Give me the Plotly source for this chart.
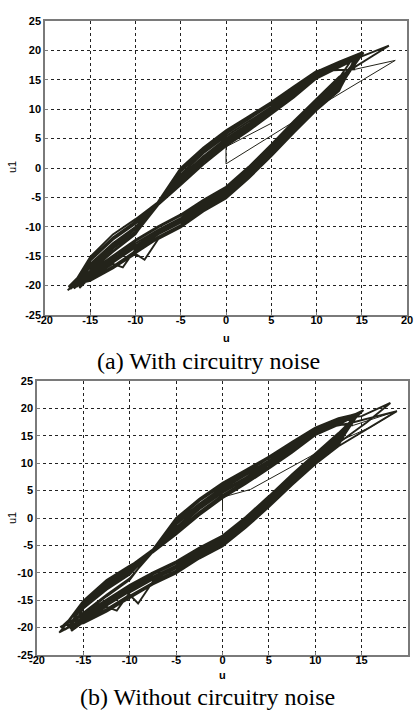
import plotly.graph_objects as go

# ---------------- data: panel (a) with circuitry noise ----------------
# start-up transient (thin isolated strokes)
u_a_start = [5.0, 0.0, 0.0, 6.3, 9.6, 18.7, 14.3]
u1_a_start = [7.6, 3.6, 0.7, 6.8, 9.9, 18.3, 16.8]
# repeated hysteresis cycles
u_a = [
    14.3,
    10.0, 7.5, 5.0, 2.5, 0.0, -2.5, -5.0, -7.5, -10.0, -12.5, -15.0, -17.5,
    -15.0, -12.5, -10.0, -7.5, -5.0, -2.5, 0.0, 2.5, 5.0, 7.5, 10.0, 12.5, 15.0,
    12.5, 10.0, 7.5, 5.0, 2.5, 0.0, -2.5, -5.0, -7.5, -10.0, -12.5, -15.0, -16.5,
    -15.0, -12.5, -10.0, -7.5, -5.0, -2.5, 0.0, 2.5, 5.0, 7.5, 10.0, 12.5, 14.6,
    12.5, 10.0, 7.5, 5.0, 2.5, 0.0, -2.5, -5.0, -7.5, -10.0, -12.5, -15.0, -17.0,
    -15.0, -12.5, -10.0, -7.5, -5.0, -2.5, 0.0, 2.5, 5.0, 7.5, 10.0, 12.5, 18.0,
    15.0, 12.5, 10.0, 7.5, 5.0, 2.5, 0.0, -2.5, -5.0, -7.5, -10.0, -12.5, -15.0, -16.2,
    -15.0, -12.5, -11.4, -10.0, -7.5, -5.0, -2.5, 0.0, 2.5, 5.0, 7.5, 10.0, 12.5, 15.2,
    12.5, 10.0, 7.5, 5.0, 2.5, 0.0, -2.5, -5.0, -7.5, -10.0, -12.5, -15.0, -17.3,
    -15.0, -12.5, -10.0, -9.0, -7.5, -5.0, -2.5, 0.0, 2.5, 5.0, 7.5, 10.0, 12.5, 14.2,
    12.5, 10.0, 7.5, 5.0, 2.5, 0.0, -2.5, -5.0, -7.5, -10.0, -12.5, -15.0, -16.8,
    -15.0, -12.5, -10.0, -7.5, -5.0, -2.5, 0.0, 2.5, 5.0, 7.5, 10.0, 12.5, 14.8,
    12.5, 10.0, 7.5, 5.0, 2.5, 0.0, -2.5, -5.0, -7.5, -10.0, -12.5, -15.0, -15.8,
    -15.0, -12.5, -10.0, -7.5, -5.0, -2.5, 0.0, 2.5, 5.0, 7.5, 10.0, 12.5, 15.1,
    12.5, 10.0, 7.5, 5.0, 2.5, 0.0, -2.5, -5.0, -7.5, -10.0, -12.5, -15.0, -17.2,
    -15.0, -12.5, -10.0, -7.5, -5.0, -2.5, 0.0, 2.5, 5.0, 7.5, 10.0, 12.5, 13.8,
    12.5, 10.0, 7.5, 5.0, 2.5, 0.0, -2.5, -5.0, -7.5, -10.0, -12.5, -15.0, -16.0,
    -15.0, -12.5, -10.0, -7.5, -5.0, -2.5, 0.0, 2.5, 5.0, 7.5, 10.0, 12.5, 14.9,
    12.5, 10.0, 7.5, 5.0, 2.5, 0.0, -2.5, -5.0, -7.5, -10.0, -12.5, -15.0, -17.4,
    -15.0, -12.5, -10.0, -7.5, -5.0, -2.5, 0.0, 2.5, 5.0, 7.5, 10.0, 12.5, 14.5,
]
u1_a = [
    16.8,
    16.5, 13.9, 11.2, 8.8, 6.4, 3.5, 0.0, -5.7, -11.3, -14.3, -17.5, -20.8,
    -18.0, -15.5, -12.8, -10.5, -8.5, -5.9, -3.7, -0.3, 3.5, 7.5, 11.3, 14.9, 19.5,
    17.4, 15.5, 12.5, 9.7, 7.0, 4.4, 1.4, -2.1, -6.1, -9.5, -12.2, -15.8, -20.2,
    -19.0, -16.9, -14.4, -11.9, -9.9, -7.2, -5.0, -1.6, 2.2, 6.2, 10.0, 13.3, 19.0,
    17.8, 16.0, 13.2, 10.4, 7.9, 5.4, 2.5, -1.1, -5.9, -10.4, -13.3, -16.7, -19.8,
    -17.6, -14.9, -12.2, -9.9, -7.9, -5.4, -3.2, 0.2, 4.0, 8.0, 11.8, 15.5, 20.8,
    19.0, 17.1, 15.2, 12.0, 9.1, 6.3, 3.7, 0.6, -2.9, -6.3, -11.2, -14.1, -17.4, -20.4,
    -18.6, -16.3, -16.9, -13.8, -11.3, -9.3, -6.7, -4.5, -1.1, 2.7, 6.7, 10.5, 13.9, 19.6,
    18.0, 16.2, 13.5, 10.8, 8.3, 5.8, 2.9, -0.6, -5.8, -10.8, -13.7, -17.0, -20.0,
    -19.2, -17.1, -14.6, -15.6, -12.1, -10.1, -7.4, -5.2, -1.8, 2.0, 6.0, 9.8, 13.1, 18.6,
    17.2, 15.3, 12.2, 9.3, 6.6, 4.0, 1.0, -2.6, -6.2, -9.1, -11.8, -15.5, -20.5,
    -18.2, -15.8, -13.2, -10.8, -8.8, -6.2, -4.0, -0.6, 3.2, 7.2, 11.0, 14.5, 19.3,
    17.6, 15.8, 12.9, 10.1, 7.5, 5.0, 2.0, -1.5, -6.0, -10.0, -12.8, -16.3, -19.6,
    -18.9, -16.7, -14.1, -11.7, -9.7, -7.0, -4.8, -1.4, 2.4, 6.4, 10.2, 13.6, 19.7,
    18.1, 16.4, 13.7, 11.0, 8.5, 6.1, 3.2, -0.3, -5.8, -8.7, -11.3, -15.1, -20.6,
    -17.8, -15.1, -12.4, -10.1, -8.1, -5.6, -3.4, 0.0, 3.8, 7.8, 11.6, 15.3, 18.2,
    17.3, 15.5, 12.4, 9.5, 6.9, 4.3, 1.3, -2.3, -6.2, -9.4, -12.1, -15.7, -20.0,
    -18.5, -16.1, -13.5, -11.1, -9.1, -6.5, -4.3, -0.9, 2.9, 6.9, 10.7, 14.2, 19.2,
    17.5, 15.7, 12.7, 9.9, 7.2, 4.7, 1.7, -1.8, -6.1, -10.3, -13.1, -16.5, -20.2,
    -19.1, -17.0, -14.5, -12.0, -10.0, -7.3, -5.1, -1.7, 2.1, 6.1, 9.9, 13.2, 18.9,
]

# ---------------- data: panel (b) without circuitry noise ----------------
u_b_start = [0.0, 0.0, 3.0, 8.0, 12.0, 16.0, 18.8, 14.1]
u1_b_start = [1.2, 3.8, 5.2, 9.8, 13.6, 16.6, 19.5, 16.9]
u_b = [
    14.1,
    12.5, 10.0, 7.5, 5.0, 2.5, 0.0, -2.5, -5.0, -7.5, -10.0, -12.5, -15.0, -17.6,
    -15.0, -12.5, -11.4, -10.0, -7.5, -5.0, -2.5, 0.0, 2.5, 5.0, 7.5, 10.0, 12.5, 14.8,
    12.5, 10.0, 7.5, 5.0, 2.5, 0.0, -2.5, -5.0, -7.5, -10.0, -12.5, -15.0, -16.4,
    -15.0, -12.5, -10.0, -7.5, -5.0, -2.5, 0.0, 2.5, 5.0, 7.5, 10.0, 12.5, 15.1,
    12.5, 10.0, 7.5, 5.0, 2.5, 0.0, -2.5, -5.0, -7.5, -10.0, -12.5, -15.0, -17.2,
    -15.0, -12.5, -10.0, -7.5, -5.0, -2.5, 0.0, 2.5, 5.0, 7.5, 10.0, 12.5, 18.8,
    13.7, 10.0, 7.5, 5.0, 2.5, 0.0, -2.5, -5.0, -7.5, -10.0, -12.5, -15.0, -16.0,
    -15.0, -12.5, -10.0, -7.5, -5.0, -2.5, 0.0, 2.5, 5.0, 7.5, 10.0, 12.5, 14.5,
    12.5, 10.0, 7.5, 5.0, 2.5, 0.0, -2.5, -5.0, -7.5, -10.0, -12.5, -15.0, -17.4,
    -15.0, -12.5, -10.0, -9.1, -7.5, -5.0, -2.5, 0.0, 2.5, 5.0, 7.5, 10.0, 12.5, 15.5, 18.1,
    15.0, 12.5, 10.0, 7.5, 5.0, 2.5, 0.0, -2.5, -5.0, -7.5, -10.0, -12.5, -15.0, -16.6,
    -15.0, -12.5, -10.0, -7.5, -5.0, -2.5, 0.0, 2.5, 5.0, 7.5, 10.0, 12.5, 14.2,
    12.5, 10.0, 7.5, 5.0, 2.5, 0.0, -2.5, -5.0, -7.5, -10.0, -12.5, -15.0, -15.9,
    -15.0, -12.5, -10.0, -7.5, -5.0, -2.5, 0.0, 2.5, 5.0, 7.5, 10.0, 12.5, 15.0,
    12.5, 10.0, 7.5, 5.0, 2.5, 0.0, -2.5, -5.0, -7.5, -10.0, -12.5, -15.0, -17.0,
    -15.0, -12.5, -10.0, -7.5, -5.0, -2.5, 0.0, 2.5, 5.0, 7.5, 10.0, 12.5, 13.9,
    12.5, 10.0, 7.5, 5.0, 2.5, 0.0, -2.5, -5.0, -7.5, -10.0, -12.5, -15.0, -16.3,
    -15.0, -12.5, -10.0, -7.5, -5.0, -2.5, 0.0, 2.5, 5.0, 7.5, 10.0, 12.5, 14.7,
    12.5, 10.0, 7.5, 5.0, 2.5, 0.0, -2.5, -5.0, -7.5, -10.0, -12.5, -15.0, -17.5,
    -15.0, -12.5, -10.0, -7.5, -5.0, -2.5, 0.0, 2.5, 5.0, 7.5, 10.0, 12.5, 15.2,
]
u1_b = [
    16.9,
    17.2, 15.4, 12.3, 9.4, 6.7, 4.2, 1.1, -2.4, -6.2, -9.2, -11.9, -15.6, -20.9,
    -18.6, -16.2, -16.9, -13.6, -11.2, -9.2, -6.6, -4.4, -1.0, 2.8, 6.8, 10.6, 14.1, 19.2,
    18.1, 16.4, 13.8, 11.1, 8.7, 6.3, 3.4, -0.2, -5.7, -8.8, -11.5, -15.2, -20.3,
    -17.9, -15.3, -12.7, -10.3, -8.3, -5.8, -3.6, -0.2, 3.6, 7.6, 11.4, 15.0, 19.6,
    17.5, 15.7, 12.8, 10.0, 7.4, 4.9, 1.9, -1.7, -6.0, -9.9, -12.7, -16.2, -19.6,
    -19.2, -17.1, -14.6, -12.1, -10.1, -7.4, -5.2, -1.8, 2.0, 6.0, 9.8, 13.1, 19.5,
    17.3, 16.1, 13.3, 10.5, 8.0, 5.6, 2.6, -0.9, -5.9, -9.5, -12.2, -15.8, -20.1,
    -17.6, -14.9, -12.2, -9.9, -7.9, -5.4, -3.2, 0.2, 4.0, 8.0, 11.8, 15.5, 18.8,
    17.0, 15.1, 11.9, 9.0, 6.2, 3.6, 0.5, -3.0, -6.3, -8.7, -11.3, -15.1, -20.5,
    -18.8, -16.6, -14.0, -15.6, -11.6, -9.6, -6.9, -4.7, -1.3, 2.5, 6.5, 10.3, 13.7, 17.4, 21.0,
    18.6, 18.0, 16.3, 13.6, 10.9, 8.4, 6.0, 3.1, -0.5, -5.8, -9.1, -11.8, -15.5, -19.9,
    -19.1, -17.0, -14.5, -12.0, -10.0, -7.3, -5.1, -1.7, 2.1, 6.1, 9.9, 13.2, 18.4,
    17.4, 15.6, 12.6, 9.8, 7.1, 4.6, 1.6, -2.0, -6.1, -9.6, -12.4, -15.9, -19.7,
    -18.2, -15.7, -13.0, -10.7, -8.7, -6.1, -3.9, -0.5, 3.3, 7.3, 11.1, 14.7, 19.5,
    17.1, 15.2, 12.1, 9.2, 6.5, 3.9, 0.8, -2.7, -6.2, -11.0, -14.0, -17.3, -20.4,
    -18.4, -16.0, -13.4, -11.0, -9.0, -6.4, -4.2, -0.8, 3.0, 7.0, 10.8, 14.3, 18.0,
    17.7, 15.9, 13.1, 10.3, 7.8, 5.3, 2.3, -1.2, -5.9, -10.3, -13.1, -16.5, -20.6,
    -19.0, -16.8, -14.2, -11.8, -9.8, -7.1, -4.9, -1.5, 2.3, 6.3, 10.1, 13.5, 19.1,
    18.2, 16.5, 13.9, 11.2, 8.8, 6.4, 3.5, 0.0, -5.7, -11.3, -14.3, -17.5, -19.9,
    -17.8, -15.1, -12.4, -10.1, -8.1, -5.6, -3.4, 0.0, 3.8, 7.8, 11.6, 15.3, 19.7,
]

tick_vals = [-20, -15, -10, -5, 0, 5, 10, 15, 20]
ytick_vals = [-25, -20, -15, -10, -5, 0, 5, 10, 15, 20, 25]
captions = ["(a) With circuitry noise", "(b) Without circuitry noise"]
x_label = "u"
y_label = "u1"

assert len(u_a) == len(u1_a) and len(u_b) == len(u1_b)
assert len(u_a_start) == len(u1_a_start) and len(u_b_start) == len(u1_b_start)

W, H = 414, 712
LINE = "#23231a"

fig = go.Figure()
for xs, ys, lw, xa, ya in [
    (u_a_start, u1_a_start, 1.0, "x", "y"),
    (u_a, u1_a, 1.9, "x", "y"),
    (u_b_start, u1_b_start, 1.0, "x2", "y2"),
    (u_b, u1_b, 1.9, "x2", "y2"),
]:
    fig.add_trace(go.Scatter(x=xs, y=ys, mode="lines", line=dict(color=LINE, width=lw),
                             xaxis=xa, yaxis=ya, showlegend=False, hoverinfo="skip"))

tickfont = dict(family="Liberation Sans", size=11, color="black")


def bold(v):
    return [f"<b>{t}</b>" for t in v]


def common():
    return dict(automargin=False, showgrid=True, gridcolor="#222", griddash="dot", gridwidth=1,
                zeroline=False, showline=True, mirror=True, linecolor="#7a7a7a", linewidth=1.5,
                ticks="inside", ticklen=3, tickcolor="#7a7a7a", tickfont=tickfont,
                fixedrange=True)


def xax(domain, anchor):
    return dict(domain=domain, anchor=anchor, range=[-20, 20], tickvals=tick_vals,
                ticktext=bold(tick_vals), ticklabelstandoff=-6, **common())


def yax(domain, anchor):
    return dict(domain=domain, anchor=anchor, range=[-25, 25], tickvals=ytick_vals,
                ticktext=bold(ytick_vals), ticklabelstandoff=0, **common())


fig.update_layout(
    width=W, height=H, margin=dict(l=0, r=0, t=0, b=0, autoexpand=False),
    paper_bgcolor="white", plot_bgcolor="white",
    xaxis=xax([45 / W, 407 / W], "y"),
    yaxis=yax([1 - 315 / H, 1 - 21 / H], "x"),
    xaxis2=xax([37 / W, 408 / W], "y2"),
    yaxis2=yax([1 - 655 / H, 1 - 381 / H], "x2"),
)

ann = []
lab_font = dict(family="Liberation Sans", size=11, color="black")


def add(text, px, py, font, angle=0):
    ann.append(dict(text=text, x=px / W, y=1 - py / H, xref="paper", yref="paper",
                    xanchor="center", yanchor="middle", textangle=angle,
                    showarrow=False, font=font))


add(f"<b>{x_label}</b>", 226, 338, lab_font)
add(f"<b>{x_label}</b>", 222, 675, lab_font)
add(y_label, 12, 167, lab_font, -90)
add(y_label, 12, 518, lab_font, -90)
cap_font = dict(family="Liberation Serif", size=24, color="black")
add(captions[0], 208, 361, cap_font)
add(captions[1], 207.5, 697, cap_font)
fig.update_layout(annotations=ann)

fig.write_html("out.html", config={"displayModeBar": False},
               post_script="document.body.style.margin='0px';document.body.style.overflow='hidden';")
